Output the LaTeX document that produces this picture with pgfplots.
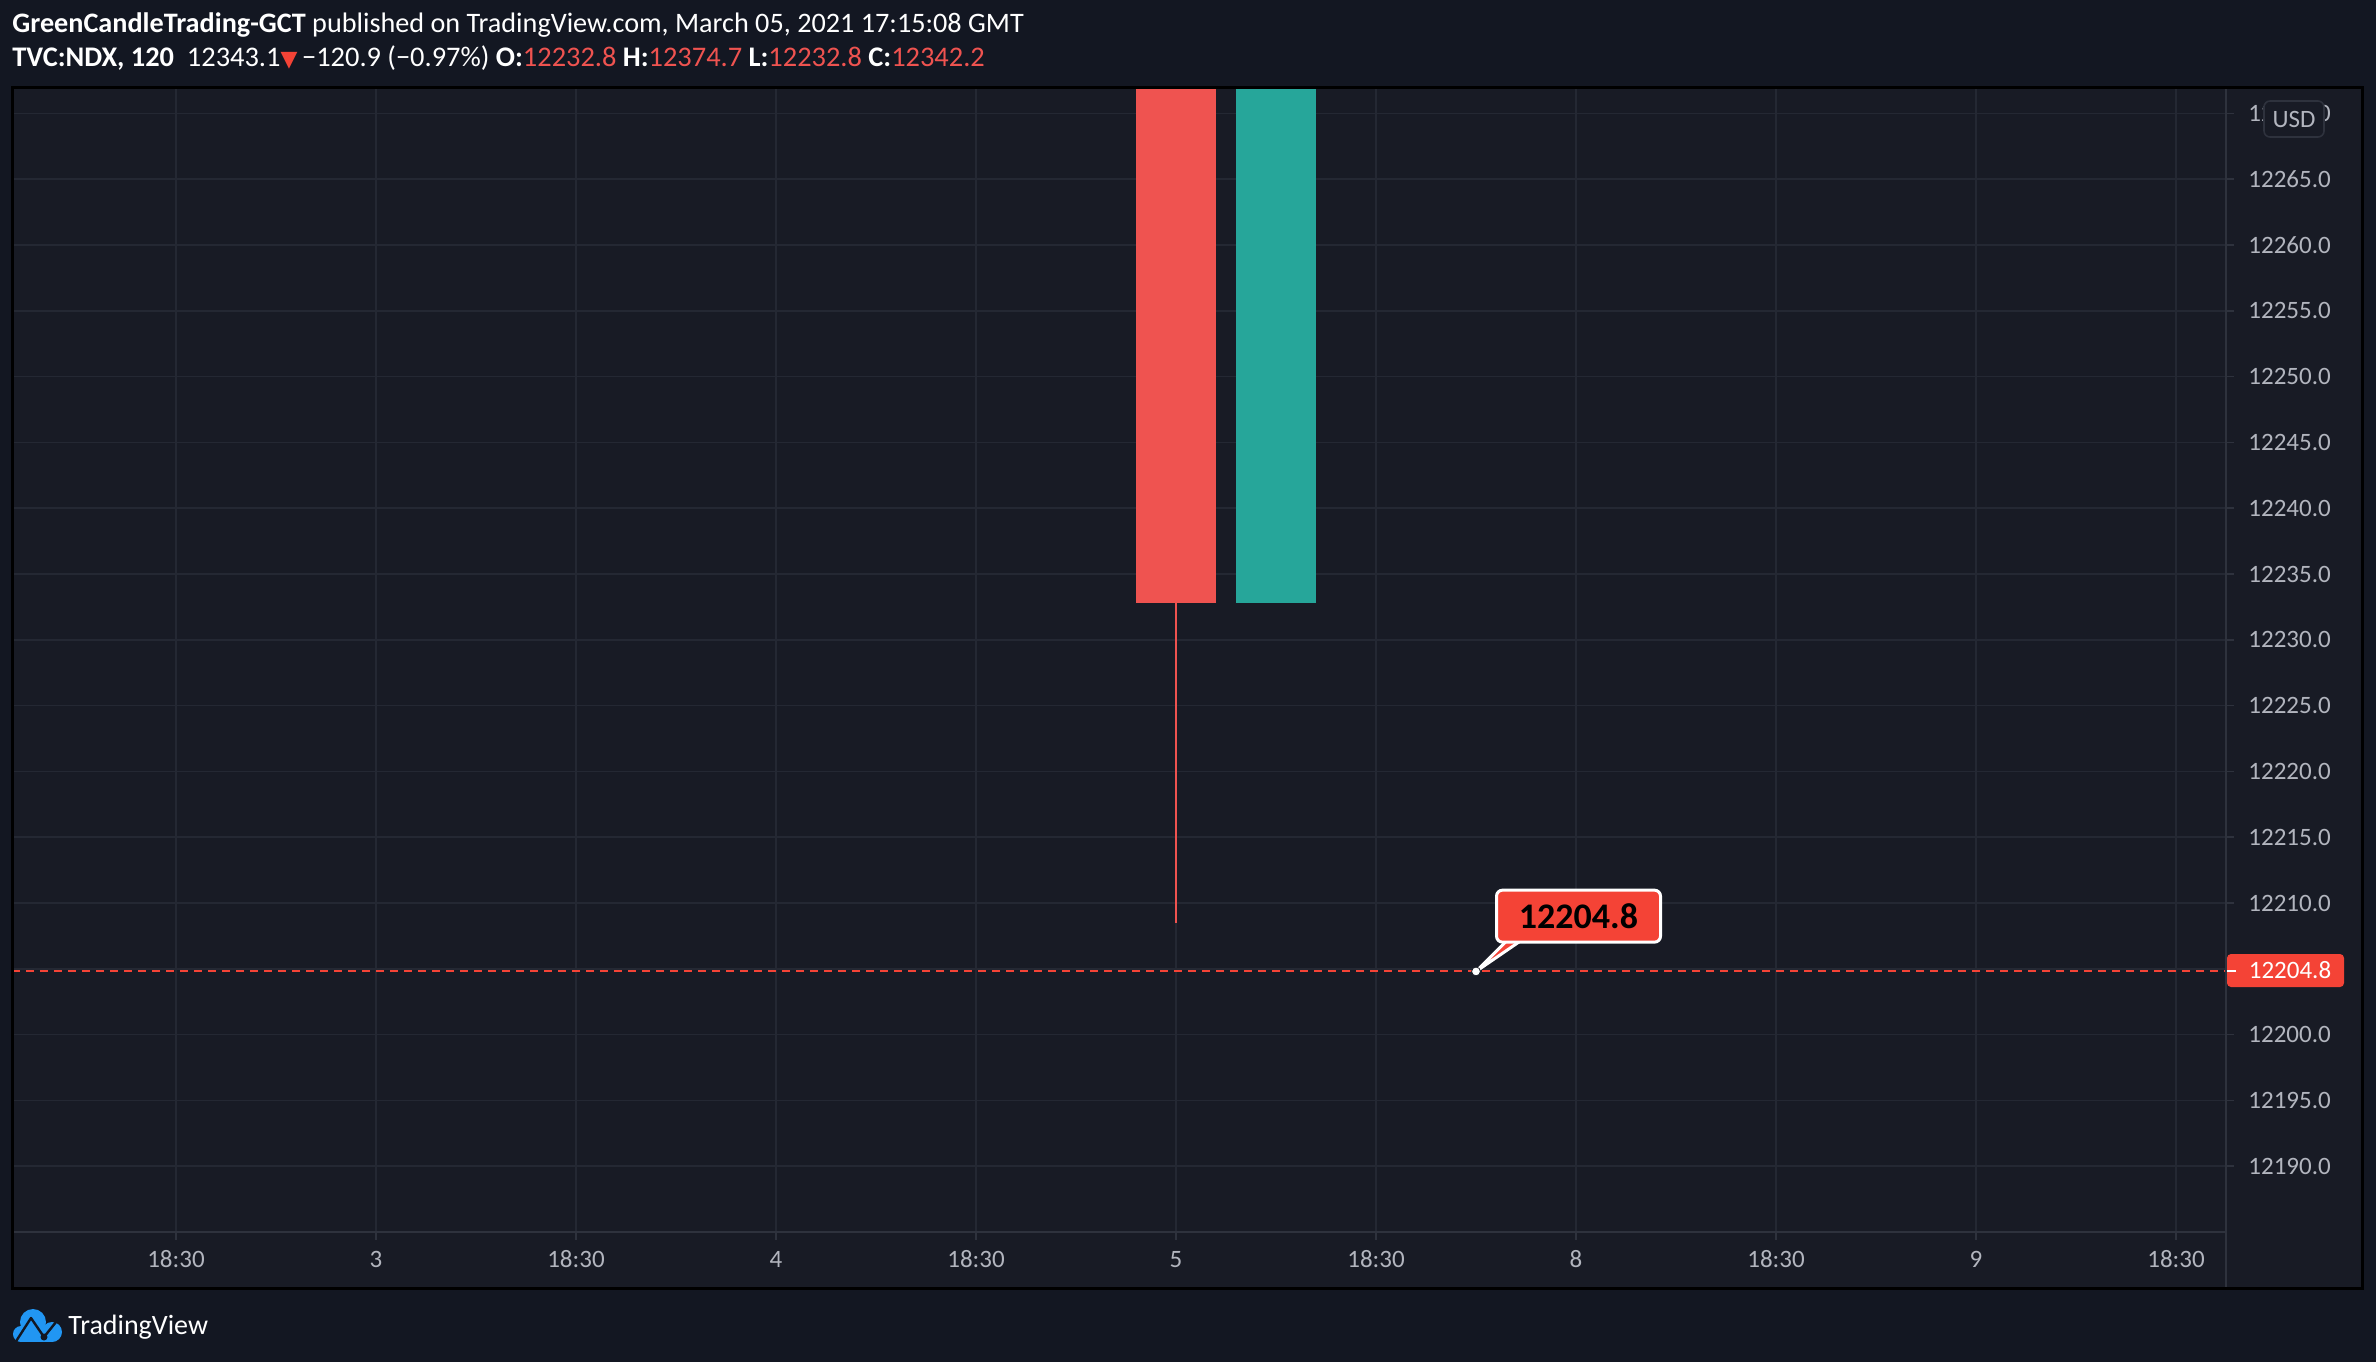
\documentclass[border=0pt]{standalone}
\usepackage{pgfplots}
\pgfplotsset{compat=1.18}
\usepackage{fontspec}
\setmainfont{Carlito}
\newfontfamily\dejavu{DejaVu Sans}
\definecolor{bgout}{HTML}{131722}
\definecolor{bgplot}{HTML}{181B25}
\definecolor{gridc}{HTML}{242833}
\definecolor{sepc}{HTML}{2E323D}
\definecolor{tickt}{HTML}{B2B5BE}
\definecolor{candred}{HTML}{EF5350}
\definecolor{candgreen}{HTML}{26A69A}
\definecolor{lred}{HTML}{F44336}
\definecolor{tvblue}{HTML}{2196F3}
\begin{document}
\begin{tikzpicture}
\begin{scope}[x=0.5pt,y=-0.5pt]
\useasboundingbox (0,0) rectangle (2376,1362);
\fill[bgout] (0,0) rectangle (2376,1362);
\fill[bgplot] (12,87) rectangle (2362,1288);
\end{scope}
\begin{axis}[
  at={(6pt,-616pt)}, anchor=south west,
  scale only axis, width=1107pt, height=572.5pt,
  xmin=-11.64, xmax=10.5, ymin=12185.0, ymax=12272.0,
  clip mode=individual,
  axis line style={draw=none},
  scaled y ticks=false, scaled x ticks=false,
  xtick={-10,-8,...,10},
  xticklabels={18:30,3,18:30,4,18:30,5,18:30,8,18:30,9,18:30},
  ytick={12190,12195,...,12270},
  yticklabels={12190.0,12195.0,12200.0,12205.0,12210.0,12215.0,12220.0,12225.0,12230.0,12235.0,12240.0,12245.0,12250.0,12255.0,12260.0,12265.0,12270.0},
  xtick pos=bottom, ytick pos=right, yticklabel pos=right,
  tick align=outside, major tick length=4pt,
  tick style={draw=sepc, line width=0.8pt},
  grid=major, major grid style={draw=gridc, line width=0.8pt},
  ticklabel style={font=\fontsize{12.5}{15}\selectfont, text=tickt, inner sep=0pt},
  xticklabel style={anchor=base},
  xticklabel shift=13.5pt,
  yticklabel style={anchor=west},
  yticklabel shift=7pt,
]
% red candle
\addplot[fill=candred, draw=none] coordinates {(-0.4,12232.8) (0.4,12232.8) (0.4,12464.0) (-0.4,12464.0)} -- cycle;
\addplot[candred, line width=1pt] coordinates {(0,12232.8) (0,12208.5)};
% green candle
\addplot[fill=candgreen, draw=none] coordinates {(0.6,12232.8) (1.4,12232.8) (1.4,12342.2) (0.6,12342.2)} -- cycle;
% horizontal dashed line
\addplot[lred, line width=1pt, dash pattern=on 4pt off 3pt] coordinates {(-11.64,12204.8) (10.5,12204.8)};
% callout
\filldraw[fill=lred, draw=white, line width=1.5pt, line join=round] (axis cs:3,12204.8) -- (axis cs:3.33,12207.3) -- (axis cs:3.48,12207.3) -- cycle;
\node[draw=white, fill=lred, rounded corners=3pt, line width=1.5pt, minimum width=82pt, minimum height=26pt, inner sep=0pt, font=\bfseries\fontsize{18}{20}\selectfont, text=black] at (axis cs:4.025,12209.0) {12204.8};
\addplot[only marks, mark=*, mark size=2.2pt, mark options={fill=white, draw=bgplot, line width=0.4pt}] coordinates {(3,12204.8)};
\end{axis}
\begin{scope}[x=0.5pt,y=-0.5pt]
% separators and border
\draw[sepc, line width=1pt] (12,1232) -- (2226,1232);
\draw[sepc, line width=1pt] (2226,87) -- (2226,1288);
\draw[black, line width=1.5pt] (12,87) rectangle (2362,1288);
% price label
\fill[lred, rounded corners=2pt] (2227,954) rectangle (2344,987);
\draw[white, line width=1pt] (2227,970.5) -- (2236,970.5);
\node[text=white, font=\fontsize{12.5}{15}\selectfont, inner sep=0pt] at (2290,970.5) {12204.8};
% USD box
\filldraw[fill=bgplot, draw=sepc, line width=0.8pt, rounded corners=3pt] (2264,101) rectangle (2324,137);
\node[text=tickt, font=\fontsize{12.5}{15}\selectfont, inner sep=0pt] at (2294,119) {USD};
% header
\node[anchor=base west, inner sep=0pt, text=white, font=\fontsize{14.1}{16}\selectfont] at (12,32) {\textbf{GreenCandleTrading-GCT} published on TradingView.com, March 05, 2021 17:15:08 GMT};
\node[anchor=base west, inner sep=0pt, text=white, font=\fontsize{14.2}{16}\selectfont] at (12,66) {\textbf{TVC:NDX, 120}\ \ 12343.1\textcolor{lred}{\dejavu\fontsize{11}{12}\selectfont▼}\,−120.9 (−0.97\%) \textbf{O:}\textcolor{candred}{12232.8} \textbf{H:}\textcolor{candred}{12374.7} \textbf{L:}\textcolor{candred}{12232.8} \textbf{C:}\textcolor{candred}{12342.2}};
% logo
\fill[tvblue] (33,1322) circle (13);
\fill[tvblue] (52,1332) circle (10);
\fill[tvblue] (21,1334) circle (8);
\fill[tvblue] (21,1328) rectangle (52,1342);
\draw[bgout, line width=1.2pt, line join=round] (13,1346) -- (31,1318) -- (44,1337) -- (56,1322);
\fill[bgout] (44,1337) circle (3.5);
\node[anchor=base west, inner sep=0pt, text=white, font=\fontsize{14}{16}\selectfont] at (68,1334) {TradingView};
\end{scope}
\end{tikzpicture}
\end{document}
